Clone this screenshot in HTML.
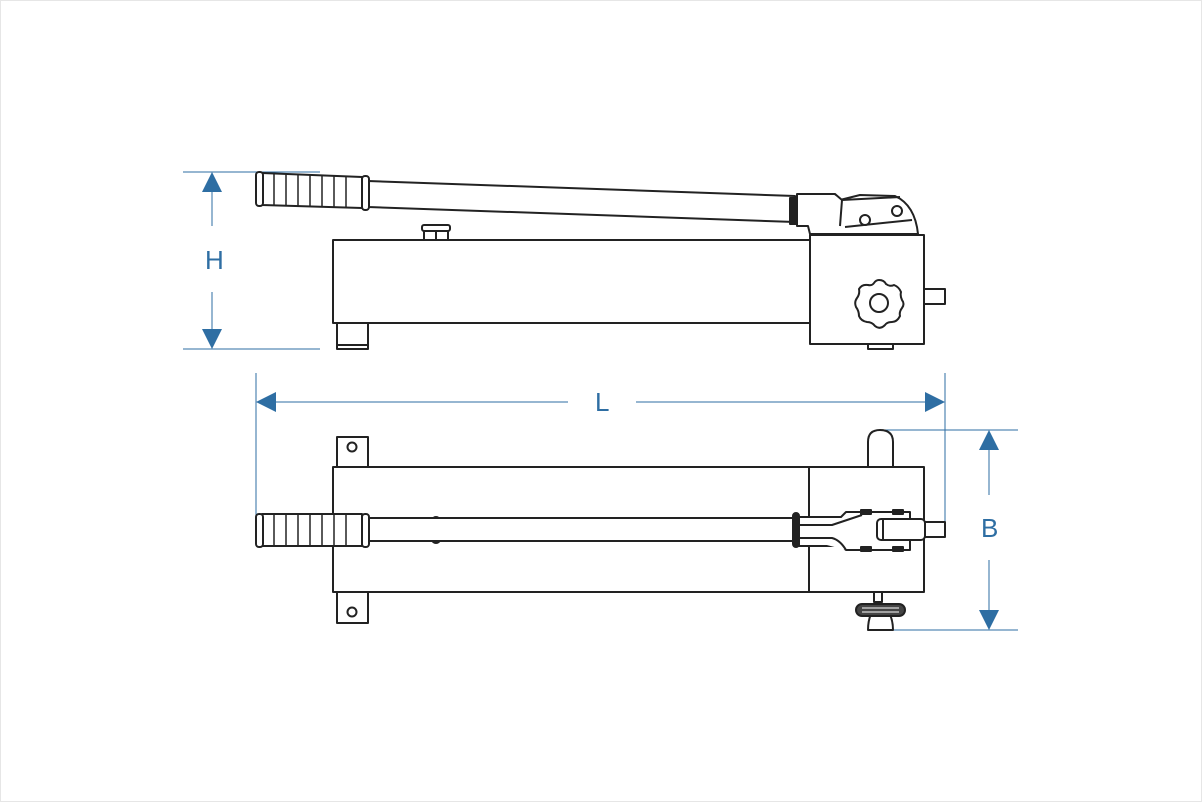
<!DOCTYPE html>
<html><head><meta charset="utf-8"><style>
html,body{margin:0;padding:0;background:#fff}
svg{display:block}
text{font-family:"Liberation Sans",sans-serif;font-size:26px;fill:#2e6ea3}
</style></head><body>
<svg width="1202" height="802" viewBox="0 0 1202 802" xmlns="http://www.w3.org/2000/svg">
<rect x="0.5" y="0.5" width="1201" height="801" fill="#fff" stroke="#e6e6e6"/>
<g stroke="#2e6ea3" stroke-width="1" fill="none">
<line x1="183" y1="172" x2="320" y2="172"/>
<line x1="183" y1="349" x2="320" y2="349"/>
<line x1="212" y1="190" x2="212" y2="226"/>
<line x1="212" y1="292" x2="212" y2="332"/>
<line x1="256" y1="373" x2="256" y2="520"/>
<line x1="945" y1="373" x2="945" y2="524"/>
<line x1="274" y1="402" x2="568" y2="402"/>
<line x1="636" y1="402" x2="927" y2="402"/>
<line x1="880" y1="430" x2="1018" y2="430"/>
<line x1="880" y1="630" x2="1018" y2="630"/>
<line x1="989" y1="448" x2="989" y2="495"/>
<line x1="989" y1="560" x2="989" y2="612"/>
</g>
<g fill="#2e6ea3">
<polygon points="212,172 202,192 222,192"/>
<polygon points="212,349 202,329 222,329"/>
<polygon points="256,402 276,392 276,412"/>
<polygon points="945,402 925,392 925,412"/>
<polygon points="989,430 979,450 999,450"/>
<polygon points="989,630 979,610 999,610"/>
</g>
<text x="205" y="269">H</text>
<text x="595" y="411">L</text>
<text x="981" y="537">B</text>
<g stroke="#222" stroke-width="2" fill="#fff" stroke-linejoin="round">
<!-- top view -->
<rect x="333" y="240" width="477" height="83"/>
<rect x="337" y="323" width="31" height="26"/>
<line x1="338" y1="345" x2="367" y2="345"/>
<rect x="424" y="231" width="24" height="9"/>
<line x1="436" y1="231" x2="436" y2="240"/>
<rect x="422" y="225" width="28" height="6" rx="2"/>
<path d="M368,181 L795,196 L795,222 L368,207 Z"/>
<path d="M262,173 L362,177 L362,208 L262,205 Z"/>
<g stroke-width="1.5"><line x1="274" y1="174" x2="274" y2="205"/><line x1="286" y1="174" x2="286" y2="206"/><line x1="298" y1="175" x2="298" y2="206"/><line x1="310" y1="175" x2="310" y2="206"/><line x1="322" y1="176" x2="322" y2="207"/><line x1="334" y1="176" x2="334" y2="207"/><line x1="346" y1="177" x2="346" y2="207"/></g>
<rect x="256" y="172" width="7" height="34" rx="3"/>
<rect x="362" y="176" width="7" height="34" rx="3"/>
<path d="M797,194 L835,194 L840,200 L860,195 L895,196 Q915,205 918,234 L810,234 L808,226 L797,226 Z"/>
<path d="M835,194 L842,200 L840,226"/>
<path d="M842,200 L900,197"/>
<path d="M845,227 L912,220"/>
<rect x="790" y="198" width="6" height="26" fill="#222"/>
<circle cx="865" cy="220" r="5"/>
<circle cx="897" cy="211" r="5"/>
<rect x="810" y="235" width="114" height="109"/>
<rect x="924" y="289" width="21" height="15"/>
<rect x="868" y="344" width="25" height="5"/>
<path d="M879,280 Q884,280 886,284 Q890,287 894,285 Q899,287 901,292 Q900,296 902,300 Q905,304 902,308 Q899,312 900,316 Q897,322 892,322 Q887,322 885,325 Q880,330 875,326 Q872,322 867,322 Q861,321 859,316 Q859,311 856,307 Q854,302 857,298 Q860,294 859,289 Q862,284 868,285 Q872,286 874,283 Q876,280 879,280 Z"/>
<circle cx="879" cy="303" r="9"/>
<!-- bottom view -->
<rect x="337" y="437" width="31" height="30"/>
<circle cx="352" cy="447" r="4.5"/>
<rect x="337" y="592" width="31" height="31"/>
<circle cx="352" cy="612" r="4.5"/>
<path d="M868,467 L868,442 Q868,430 880,430 Q893,430 893,442 L893,467"/>
<rect x="333" y="467" width="591" height="125"/>
<line x1="809" y1="467" x2="809" y2="592"/>
<rect x="924" y="522" width="21" height="15"/>
<ellipse cx="436" cy="530" rx="7" ry="13" fill="#222"/>
<rect x="368" y="518" width="428" height="23"/>
<path d="M262,514 L362,514 L362,546 L262,546 Z"/>
<g stroke-width="1.5"><line x1="274" y1="514" x2="274" y2="546"/><line x1="286" y1="514" x2="286" y2="546"/><line x1="298" y1="514" x2="298" y2="546"/><line x1="310" y1="514" x2="310" y2="546"/><line x1="322" y1="514" x2="322" y2="546"/><line x1="334" y1="514" x2="334" y2="546"/><line x1="346" y1="514" x2="346" y2="546"/></g>
<rect x="256" y="514" width="7" height="33" rx="3"/>
<rect x="362" y="514" width="7" height="33" rx="3"/>
<rect x="793" y="513" width="6" height="34" rx="3" fill="#222"/>
<path d="M799,517 L841,517 L846,512 L910,512 L910,550 L846,550 L841,546 L799,546 Z"/>
<path d="M800,525 L832,525 L862,515 M800,538 L832,538 Q840,540 846,550"/>
<rect x="861" y="510" width="10" height="4" fill="#222"/>
<rect x="893" y="510" width="10" height="4" fill="#222"/>
<rect x="861" y="547" width="10" height="4" fill="#222"/>
<rect x="893" y="547" width="10" height="4" fill="#222"/>
<rect x="877" y="519" width="48" height="21" rx="4"/>
<line x1="883" y1="519" x2="883" y2="540"/>
<rect x="874" y="592" width="8" height="10"/>
<path d="M868,630 Q868,612 880,602 Q893,612 893,630 Z"/>
<rect x="856" y="604" width="49" height="12" rx="6" fill="#444"/>
<path d="M862,608 L899,608 M862,612 L899,612" stroke="#fff" stroke-width="1"/>
</g>
</svg>
</body></html>
